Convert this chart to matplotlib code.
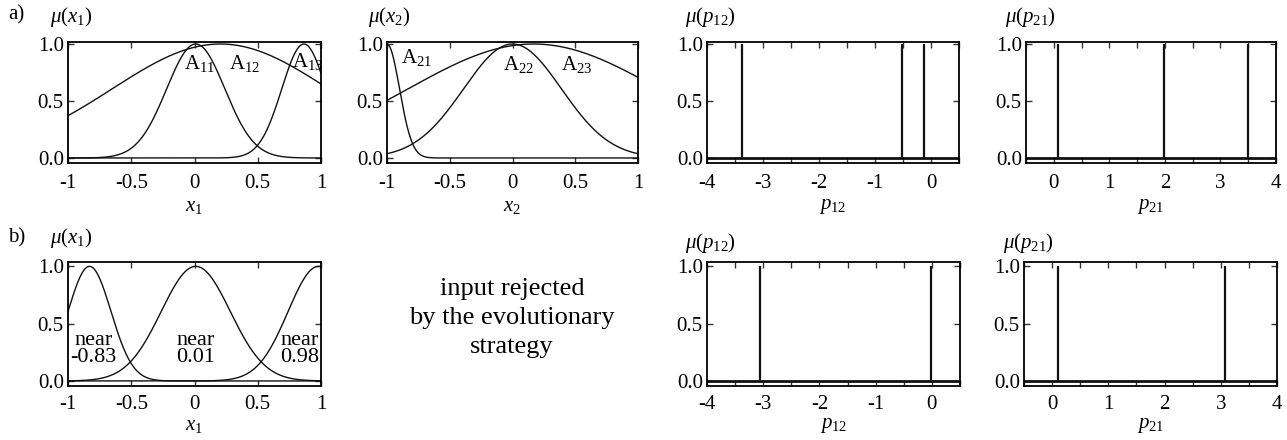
import numpy as np
import matplotlib
matplotlib.use("Agg")
import matplotlib.pyplot as plt
from matplotlib.ticker import MultipleLocator

plt.rcParams['font.family'] = ['Liberation Serif', 'DejaVu Serif']
plt.rcParams['mathtext.fontset'] = 'custom'
plt.rcParams['mathtext.rm'] = 'Liberation Serif'
plt.rcParams['mathtext.it'] = 'Liberation Serif:italic'
plt.rcParams['mathtext.bf'] = 'Liberation Serif:bold'
plt.rcParams['axes.unicode_minus'] = False

# ---- data ----
# Gaussian membership functions: centres and widths
a1_centers = [0.01, 0.205, 0.865]
a1_widths = [0.23, 0.856, 0.175]
a1_names = ['A$_{11}$', 'A$_{12}$', 'A$_{13}$']
a1_label_x = [-0.08, 0.27, 0.77]
a1_label_y = [0.83, 0.83, 0.85]

a2_centers = [-1.0, 0.0, 0.168]
a2_widths = [0.1, 0.39, 1.0]
a2_names = ['A$_{21}$', 'A$_{22}$', 'A$_{23}$']
a2_label_x = [-0.89, -0.075, 0.39]
a2_label_y = [0.88, 0.82, 0.82]

b1_centers = [-0.83, 0.01, 0.98]
b1_widths = [0.17, 0.273, 0.24]
b1_word = ['near', 'near', 'near']
b1_values = ['-0.83', '0.01', '0.98']
b1_label_x = [-0.80, 0.01, 0.83]

# singleton consequents
a3_spikes = [-3.37, -0.52, -0.12]
a4_spikes = [0.08, 1.99, 3.50]
b3_spikes = [-3.06, -0.01]
b4_spikes = [0.10, 3.07]

x_ticks = [-1, -0.5, 0, 0.5, 1]
x_ticklabels = ['-1', '-0.5', '0', '0.5', '1']
p12_ticks = [-4, -3, -2, -1, 0]
p12_ticklabels = ['-4', '-3', '-2', '-1', '0']
p21_ticks = [0, 1, 2, 3, 4]
p21_ticklabels = ['0', '1', '2', '3', '4']
y_ticks = [0, 0.5, 1.0]
y_ticklabels = ['0.0', '0.5', '1.0']

W, H = 1287, 440
fig = plt.figure(figsize=(W / 100, H / 100), dpi=100)

TICK_FS = 15
LAB_FS = 15


def add_ax(left, right, top, bottom):
    return fig.add_axes([left / W, 1 - bottom / H, (right - left) / W, (bottom - top) / H])


def style(ax, xlim, ylim, xt, xtl, xlabel, ylabel_txt, ylab_xy, minor=None, xpad=8, lpad=3):
    ax.set_xlim(*xlim)
    ax.set_ylim(*ylim)
    ax.set_xticks(xt)
    ax.set_xticklabels(xtl)
    ax.set_yticks(y_ticks)
    ax.set_yticklabels(y_ticklabels)
    if minor is not None:
        ax.xaxis.set_minor_locator(MultipleLocator(minor))
    ax.tick_params(which='both', direction='in', top=True, right=True,
                   length=4.5, width=1, labelsize=TICK_FS, color='#333333')
    ax.tick_params(axis='x', pad=xpad)
    ax.tick_params(axis='y', pad=3)
    for s in ax.spines.values():
        s.set_linewidth(1.3)
    ax.set_xlabel(xlabel, fontsize=LAB_FS, labelpad=lpad)
    fig.text(ylab_xy[0] / W, 1 - ylab_xy[1] / H, ylabel_txt, fontsize=LAB_FS,
             ha='left', va='center')


def gauss_panel(ax, centers, widths):
    xs = np.linspace(-1, 1, 600)
    for c, s in zip(centers, widths):
        ax.plot(xs, np.exp(-(xs - c) ** 2 / (2 * s ** 2)), color='#111111', lw=1.0)


def spike_panel(ax, spikes, xlim):
    ax.hlines(0, xlim[0], xlim[1], color='#111111', lw=2.0)
    ax.vlines(spikes, 0, 1, color='#111111', lw=1.6)


top_ylim = (-0.044, 1.0175)
bot_ylim = (-0.044, 1.038)

# ---- row a ----
ax = add_ax(68, 321, 42, 163)
gauss_panel(ax, a1_centers, a1_widths)
for n, x, y in zip(a1_names, a1_label_x, a1_label_y):
    ax.text(x, y, n, fontsize=LAB_FS, ha='left', va='center')
style(ax, (-1, 1), top_ylim, x_ticks, x_ticklabels, '$x_1$', r'$\mu(x_1)$', (50, 17))

ax = add_ax(387, 638, 42, 163)
gauss_panel(ax, a2_centers, a2_widths)
for n, x, y in zip(a2_names, a2_label_x, a2_label_y):
    ax.text(x, y, n, fontsize=LAB_FS, ha='left', va='center')
style(ax, (-1, 1), top_ylim, x_ticks, x_ticklabels, '$x_2$', r'$\mu(x_2)$', (368, 17))

ax = add_ax(707, 959, 42, 163)
spike_panel(ax, a3_spikes, (-4, 0.5))
style(ax, (-4, 0.5), top_ylim, p12_ticks, p12_ticklabels, '$p_{12}$', r'$\mu(p_{12})$',
      (685, 17), minor=0.5)

ax = add_ax(1026, 1276, 42, 163)
spike_panel(ax, a4_spikes, (-0.5, 4))
style(ax, (-0.5, 4), top_ylim, p21_ticks, p21_ticklabels, '$p_{21}$', r'$\mu(p_{21})$',
      (1005, 17), minor=0.5)

# ---- row b ----
ax = add_ax(68, 321, 262, 386)
gauss_panel(ax, b1_centers, b1_widths)
for w, v, x in zip(b1_word, b1_values, b1_label_x):
    ax.text(x, 0.355, w, fontsize=16, ha='center', va='center')
    ax.text(x, 0.205, v, fontsize=16, ha='center', va='center')
style(ax, (-1, 1), bot_ylim, x_ticks, x_ticklabels, '$x_1$', r'$\mu(x_1)$', (50, 238),
      xpad=6.5, lpad=1.5)

ax = add_ax(707, 960, 262, 386)
spike_panel(ax, b3_spikes, (-4, 0.5))
style(ax, (-4, 0.5), bot_ylim, p12_ticks, p12_ticklabels, '$p_{12}$', r'$\mu(p_{12})$',
      (685, 243), minor=0.5, xpad=6.5, lpad=1.5)

ax = add_ax(1024, 1277, 262, 386)
spike_panel(ax, b4_spikes, (-0.5, 4))
style(ax, (-0.5, 4), bot_ylim, p21_ticks, p21_ticklabels, '$p_{21}$', r'$\mu(p_{21})$',
      (1003, 243), minor=0.5, xpad=6.5, lpad=1.5)

fig.text(512 / W, 1 - 318 / H, 'input rejected\nby the evolutionary\nstrategy',
         fontsize=19, ha='center', va='center', linespacing=1.42)

fig.text(8 / W, 1 - 15 / H, 'a)', fontsize=LAB_FS, ha='left', va='center')
fig.text(8 / W, 1 - 238 / H, 'b)', fontsize=LAB_FS, ha='left', va='center')

fig.savefig('out.png', dpi=100)
